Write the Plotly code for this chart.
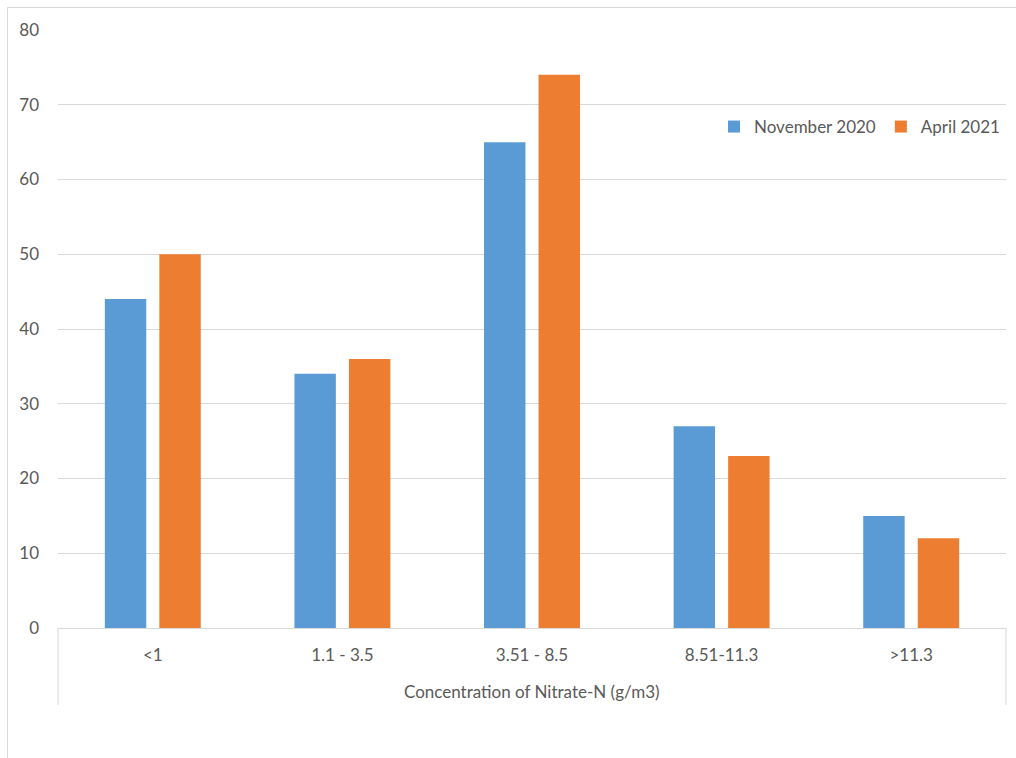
import plotly.graph_objects as go

categories = ["<1", "1.1 - 3.5", "3.51 - 8.5", "8.51-11.3", ">11.3"]
nov_2020 = [44, 34, 65, 27, 15]
apr_2021 = [50, 36, 74, 23, 12]
series_names = ["November 2020", "April 2021"]
y_ticks = [0, 10, 20, 30, 40, 50, 60, 70, 80]
x_title = "Concentration of Nitrate-N (g/m3)"

W, H = 1016, 758
L, R, T, B = 58, 10, 30, 130
pw, ph = W - L - R, H - T - B

def px_x(px):
    return (px - L) / pw

def px_y(py):
    return (H - B - py) / ph

FONT = "Lato, Liberation Sans, sans-serif"
TXT = "#595959"
GRID = "#D9D9D9"

fig = go.Figure()
fig.add_trace(go.Bar(x=categories, y=nov_2020, name=series_names[0], marker_color="#5B9BD5", marker_line_width=0))
fig.add_trace(go.Bar(x=categories, y=apr_2021, name=series_names[1], marker_color="#ED7D31", marker_line_width=0))

shapes = []
# outer chart border (left and top)
shapes.append(dict(type="line", xref="paper", yref="paper", x0=px_x(7.5), x1=px_x(7.5), y0=px_y(7.5), y1=px_y(758), line=dict(color="#D9D9D9", width=1)))
shapes.append(dict(type="line", xref="paper", yref="paper", x0=px_x(7.5), x1=px_x(1016), y0=px_y(7.5), y1=px_y(7.5), line=dict(color="#D9D9D9", width=1)))
# multi-level category frame lines
shapes.append(dict(type="line", xref="paper", yref="paper", x0=0, x1=0, y0=0, y1=px_y(705), line=dict(color="#D9D9D9", width=1)))
shapes.append(dict(type="line", xref="paper", yref="paper", x0=1, x1=1, y0=0, y1=px_y(705), line=dict(color="#D9D9D9", width=1)))

fig.update_layout(
    width=W, height=H,
    margin=dict(l=L, r=R, t=T, b=B, autoexpand=False),
    paper_bgcolor="white", plot_bgcolor="white",
    font=dict(family=FONT, size=17, color=TXT),
    barmode="group", bargap=0.425, bargroupgap=0.24,
    showlegend=True,
    legend=dict(orientation="h", x=px_x(714), y=px_y(127), xanchor="left", yanchor="middle",
                bgcolor="rgba(0,0,0,0)", font=dict(size=17, color=TXT), itemwidth=30,
                traceorder="normal"),
    shapes=shapes,
    annotations=[dict(text=x_title, xref="paper", yref="paper", x=0.5, y=px_y(691),
                      xanchor="center", yanchor="middle", showarrow=False,
                      font=dict(size=17, color=TXT))],
)
fig.update_xaxes(showgrid=False, showline=True, linecolor=GRID, linewidth=1,
                 ticks="", tickfont=dict(size=17, color=TXT), ticklabelstandoff=12)
fig.update_yaxes(range=[0, 80], tickvals=y_ticks, showgrid=True, gridcolor=GRID, gridwidth=1,
                 zeroline=False, showline=False, ticks="", tickfont=dict(size=17, color=TXT),
                 ticklabelstandoff=18)

fig.write_html("out.html")
